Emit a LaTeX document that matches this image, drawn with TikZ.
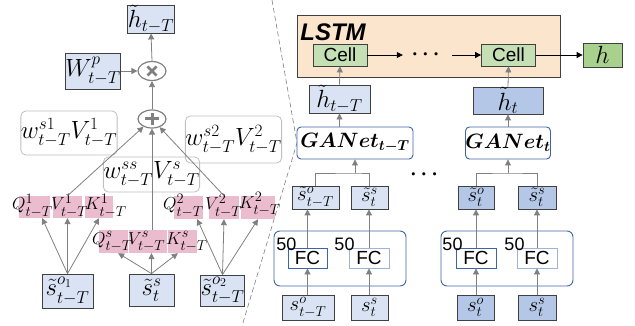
\documentclass[tikz,border=0pt]{standalone}
\usepackage{amsmath}
\usepackage{fontspec}
\setsansfont{Liberation Sans}
\usetikzlibrary{arrows.meta,shapes.geometric,calc}
\definecolor{lb}{HTML}{DAE3F3}
\definecolor{mb}{HTML}{B4C7E7}
\definecolor{pk}{HTML}{EBBCCD}
\definecolor{peach}{HTML}{FCE5CD}
\definecolor{lg}{HTML}{C5E0B4}
\definecolor{dg}{HTML}{A9D18E}
\definecolor{bd}{HTML}{404040}
\definecolor{ar}{HTML}{808080}
\definecolor{bl}{HTML}{3F63A8}
\definecolor{bl2}{HTML}{9FB3DA}
\definecolor{rg}{HTML}{BFBFBF}
\begin{document}
\begin{tikzpicture}[x=1pt,y=-1pt,
  mfont/.style={font=\fontsize{24}{28}\selectfont},
  sfont/.style={font=\fontsize{22.5}{26}\selectfont},
  tfont/.style={font=\fontsize{19}{22}\selectfont},
  box/.style={draw=bd,line width=0.8pt,inner sep=0pt,mfont},
  sbox/.style={draw=bd,line width=0.8pt,inner sep=0pt,sfont},
  rbox/.style={draw=rg,line width=0.8pt,rounded corners=5pt,inner sep=0pt,mfont},
  prect/.style={fill=pk,inner sep=0pt},
  term/.style={anchor=base west,inner sep=0pt,tfont},
  garr/.style={draw=ar,line width=0.8pt,-{Triangle[length=6pt,width=6pt]}},
  karr/.style={draw=black,line width=0.8pt,-{Triangle[length=6pt,width=6pt]}},
  oper/.style={ellipse,draw=ar,line width=1.2pt,minimum width=28pt,minimum height=19pt,inner sep=0pt},
  gbox/.style={draw=bl,line width=0.9pt,fill=white,rounded corners=4pt,inner sep=0pt,font=\fontsize{20.5}{24}\selectfont},
  fcbox/.style={draw=bl,line width=0.8pt,fill=white,inner sep=0pt,minimum width=39pt,minimum height=20pt,font=\fontsize{19}{22}\selectfont\sffamily},
  numlab/.style={inner sep=0pt,font=\fontsize{18}{20}\selectfont\sffamily},
  cellbox/.style={draw=bd,line width=0.8pt,fill=lg,inner sep=0pt,minimum width=54pt,minimum height=22pt,font=\fontsize{19}{22}\selectfont\sffamily},
  dotsty/.style={inner sep=0pt,font=\fontsize{22}{24}\selectfont}
]
\useasboundingbox (0,0) rectangle (635,326);

% separator
\draw[ar,line width=0.6pt,dash pattern=on 5pt off 3pt] (272,0) -- (297,143) -- (242,326);

% ---------- left part ----------
\node[box,fill=lb,minimum width=46pt,minimum height=22pt] (hl) at (151,19) {$\tilde{h}_{t-T}$};
\node[box,fill=lb,minimum width=52pt,minimum height=36pt] (wp) at (93,71) {$W^{p}_{t-T}$};
\node[oper] (mul) at (152,71) {};
\draw[ar,line width=2.6pt] ($(mul)+(-4.5,-4.5)$) -- ($(mul)+(4.5,4.5)$);
\draw[ar,line width=2.6pt] ($(mul)+(-4.5,4.5)$) -- ($(mul)+(4.5,-4.5)$);
\node[oper,minimum height=18pt] (add) at (152,119) {};
\draw[ar,line width=3pt] ($(add)+(-7,0)$) -- ($(add)+(7,0)$);
\draw[ar,line width=3pt] ($(add)+(0,-6)$) -- ($(add)+(0,6)$);

\node[rbox,minimum width=96pt,minimum height=44pt] (ws1) at (69,133) {$w^{s1}_{t-T}V^{1}_{t-T}$};
\node[rbox,minimum width=93pt,minimum height=47pt] (ws2) at (233.5,139.5) {$w^{s2}_{t-T}V^{2}_{t-T}$};
\node[rbox,minimum width=91pt,minimum height=35pt] (wss) at (151.5,174.5) {$w^{ss}_{t-T}V^{s}_{t-T}$};

% pink backgrounds
\node[prect,minimum width=31pt,minimum height=22pt] (q1) at (34.5,207) {};
\node[prect,minimum width=29pt,minimum height=22pt] (v1) at (67.5,207) {};
\node[prect,minimum width=28pt,minimum height=22pt] (k1) at (99,207) {};
\node[prect,minimum width=29pt,minimum height=23pt] (qs) at (113.5,241.5) {};
\node[prect,minimum width=38pt,minimum height=23pt] (vs) at (148,241.5) {};
\node[prect,minimum width=29pt,minimum height=23pt] (ks) at (182.5,241.5) {};
\node[prect,minimum width=29pt,minimum height=23pt] (q2) at (188.5,207.5) {};
\node[prect,minimum width=30pt,minimum height=23pt] (v2) at (224,207.5) {};
\node[prect,minimum width=34pt,minimum height=23pt] (k2) at (258,207.5) {};

% terms
\node[term] (tq1) at (12,210) {$Q^{1}_{t-T}$};
\node[term] (tv1) at (51,210) {$V^{1}_{t-T}$};
\node[term] (tk1) at (85,210) {$K^{1}_{t-T}$};
\node[term] (tqs) at (92,244) {$Q^{s}_{t-T}$};
\node[term] (tvs) at (128,244) {$V^{s}_{t-T}$};
\node[term] (tks) at (166,244) {$K^{s}_{t-T}$};
\node[term] (tq2) at (163,210) {$Q^{2}_{t-T}$};
\node[term] (tv2) at (205,210) {$V^{2}_{t-T}$};
\node[term] (tk2) at (239,208) {$K^{2}_{t-T}$};

\node[box,fill=lb,minimum width=51pt,minimum height=34pt] (so1) at (67.5,291) {$\tilde{s}^{o_1}_{t-T}$};
\node[box,fill=lb,minimum width=45pt,minimum height=32pt] (ssl) at (151.5,290) {$\tilde{s}^{s}_{t}$};
\node[box,fill=lb,minimum width=41pt,minimum height=31pt] (so2) at (222.5,290.5) {$\tilde{s}^{o_2}_{t-T}$};

\draw[garr] (so1.north) -- ([xshift=-8pt]q1.south east);
\draw[garr] (so1.north) -- (v1.south);
\draw[garr] (so1.north) -- (k1.south);
\draw[garr] (ssl.north) -- ([xshift=-10pt]qs.south east);
\draw[garr] (ssl.north) -- (ssl.north |- vs.south);
\draw[garr] (ssl.north) -- ([xshift=10pt]ks.south west);
\draw[garr] (so2.north) -- ([xshift=-6pt]q2.south east);
\draw[garr] (so2.north) -- (v2.south);
\draw[garr] (so2.north) -- (k2.south);

\draw[garr] (v1.north) -- (add);
\draw[garr] (add.south |- vs.north) -- (add.south);
\draw[garr] (v2.north) -- (add);
\draw[garr] (add.north) -- (mul.south);
\draw[garr] (mul.north) -- (hl.south);
\draw[garr] (wp.east) -- (mul.west);

% ---------- right part ----------
\node[draw=bd,line width=1pt,fill=peach,minimum width=263pt,minimum height=62pt,inner sep=0pt] (lstm) at (428.5,47) {};
\node[inner sep=0pt,font=\fontsize{24}{27}\selectfont\sffamily\bfseries\itshape] (lstmlab) at (333,32.5) {LSTM};
\node[cellbox] (cell1) at (340,55) {Cell};
\node[cellbox] (cell2) at (508.5,55) {Cell};
\node[dotsty,minimum width=49pt] (dots) at (427.5,55) {$\boldsymbol{\cdots}$};
\node[box,fill=dg,minimum width=39pt,minimum height=24pt] (hout) at (602.5,55) {$h$};
\draw[karr] (cell1.east) -- (dots.west);
\draw[karr] (dots.east) -- (cell2.west);
\draw[karr] (cell2.east) -- (hout.west);

\node[box,fill=lb,minimum width=61pt,minimum height=26pt] (ht1) at (339.5,99) {$\tilde{h}_{t-T}$};
\node[box,fill=mb,minimum width=70pt,minimum height=27pt] (ht2) at (508,100.5) {$\tilde{h}_{t}$};
\draw[garr] (ht1.north) -- (cell1.south);
\draw[garr] (ht2.north) -- (cell2.south);

\node[gbox,minimum width=116pt,minimum height=32pt] (gan1) at (355,143) {$\boldsymbol{GANet_{t-T}}$};
\node[gbox,minimum width=84pt,minimum height=32pt] (gan2) at (508,143) {$\boldsymbol{GANet_{t}}$};
\draw[garr] (ht1.south |- gan1.north) -- (ht1.south);
\draw[garr] (gan2.north) -- (ht2.south);

\node[sbox,fill=lb,minimum width=47pt,minimum height=23pt] (ss1o) at (315.5,197.5) {$\tilde{s}^{o}_{t-T}$};
\node[sbox,fill=lb,minimum width=37pt,minimum height=23pt] (ss1s) at (369.5,197.5) {$\tilde{s}^{s}_{t}$};
\node[sbox,fill=mb,minimum width=36pt,minimum height=23pt] (ss2o) at (476,197.5) {$\tilde{s}^{o}_{t}$};
\node[sbox,fill=mb,minimum width=38pt,minimum height=23pt] (ss2s) at (537,197.5) {$\tilde{s}^{s}_{t}$};

\coordinate (j1) at (355,173);
\coordinate (j2) at (508,173);
\draw[ar,line width=0.8pt] (ss1o.north) |- (j1) -| (ss1s.north);
\draw[ar,line width=0.8pt] (ss2o.north) |- (j2) -| (ss2s.north);
\draw[garr] (j1) -- (gan1.south);
\draw[garr] (j2) -- (gan2.south);

\node[dotsty] (dots2) at (426,175) {$\boldsymbol{\cdots}$};

\node[draw=bl,line width=0.9pt,rounded corners=6pt,minimum width=132pt,minimum height=55pt,inner sep=0pt] (fcg1) at (340,258.5) {};
\node[draw=bl,line width=0.9pt,rounded corners=6pt,minimum width=132pt,minimum height=55pt,inner sep=0pt] (fcg2) at (507,258.5) {};
\node[fcbox] (fc1a) at (307.5,258) {FC};
\node[fcbox,draw=bl2,minimum width=40pt] (fc1b) at (369,258) {FC};
\node[fcbox,minimum width=40pt] (fc2a) at (476,258) {FC};
\node[fcbox,draw=bl2,minimum width=40pt] (fc2b) at (537,258) {FC};
\node[numlab] (n1) at (286.5,244) {50};
\node[numlab] (n2) at (344.5,244) {50};
\node[numlab] (n3) at (452.5,244) {50};
\node[numlab] (n4) at (514.5,244) {50};

\node[sbox,fill=lb,minimum width=52pt,minimum height=25pt] (so1b) at (308,307.5) {$s^{o}_{t-T}$};
\node[sbox,fill=lb,minimum width=37pt,minimum height=25pt] (sss1) at (369.5,307.5) {$s^{s}_{t}$};
\node[sbox,fill=mb,minimum width=37pt,minimum height=25pt] (so2b) at (475.5,307.5) {$s^{o}_{t}$};
\node[sbox,fill=mb,minimum width=38pt,minimum height=25pt] (sss2) at (537,307.5) {$s^{s}_{t}$};

\draw[garr] (fc1a.south |- so1b.north) -- (fc1a.south);
\draw[garr] (fc1b.south |- sss1.north) -- (fc1b.south);
\draw[garr] (fc2a.south |- so2b.north) -- (fc2a.south);
\draw[garr] (fc2b.south |- sss2.north) -- (fc2b.south);
\draw[garr] (fc1a.north) -- (fc1a.north |- ss1o.south);
\draw[garr] (fc1b.north) -- (fc1b.north |- ss1s.south);
\draw[garr] (fc2a.north) -- (fc2a.north |- ss2o.south);
\draw[garr] (fc2b.north) -- (fc2b.north |- ss2s.south);
\end{tikzpicture}
\end{document}
